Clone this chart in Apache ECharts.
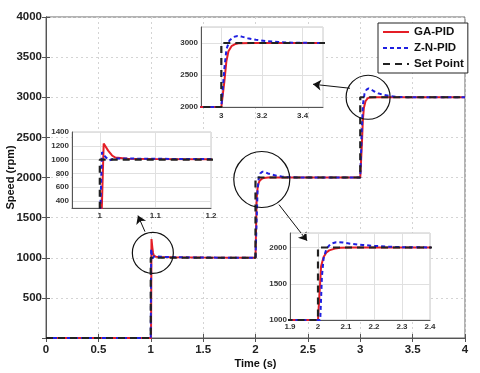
<!DOCTYPE html>
<html>
<head>
<meta charset="utf-8">
<script src="https://cdn.jsdelivr.net/npm/echarts@6/dist/echarts.min.js"></script>
<style>
  html, body { margin: 0; padding: 0; background: #fff; }
  #chart { width: 480px; height: 373px; }
</style>
</head>
<body>
<div id="chart"></div>
<script>
const seriesNames = ['GA-PID', 'Z-N-PID', 'Set Point'];

// [time (s), speed (rpm)]
const setPoint = [[0, 0], [1, 0], [1, 1000], [2, 1000], [2, 2000], [3, 2000], [3, 3000], [4, 3000]];

const gaPid = [
  [0, 0], [1.0025, 0], [1.007, 1233], [1.015, 1130], [1.022, 1060], [1.028, 1030],
  [1.05, 1012], [1.1, 1008], [1.2, 1005], [1.5, 1002], [2.0, 1000], [2.006, 1000],
  [2.011, 1740], [2.02, 1870], [2.03, 1930], [2.04, 1960], [2.06, 1985], [2.08, 1995],
  [2.12, 2000], [3.0, 2000], [3.005, 2000], [3.015, 2400], [3.025, 2720], [3.035, 2870],
  [3.05, 2950], [3.07, 2985], [3.09, 2998], [3.15, 3000], [4, 3000]
];

const znPid = [
  [0, 0], [1.0, 0], [1.004, 1110], [1.009, 1050], [1.017, 990], [1.024, 1010],
  [1.03, 1015], [1.06, 1015], [1.1, 1012], [1.2, 1008], [1.5, 1002], [2.0, 1000],
  [2.008, 1000], [2.014, 1600], [2.02, 1850], [2.03, 1980], [2.045, 2050], [2.065, 2073],
  [2.09, 2068], [2.12, 2050], [2.16, 2035], [2.2, 2022], [2.25, 2012], [2.3, 2005],
  [2.4, 2001], [3.0, 2000], [3.006, 2000], [3.015, 2600], [3.025, 2900], [3.04, 3040],
  [3.06, 3095], [3.08, 3110], [3.1, 3100], [3.13, 3075], [3.17, 3050], [3.22, 3030],
  [3.28, 3015], [3.35, 3005], [3.45, 3001], [4, 3000]
];

// zoom annotations on the main axes, [time, speed]
const zoomCircles = [[1.02, 1060], [2.06, 1975], [3.075, 3000]];
const zoomArrows = [
  [[0.945, 1325], [0.878, 1525]],
  [[2.224, 1662], [2.492, 1212]],
  [[2.902, 3112], [2.549, 3162]]
];

const circleDiameters = [41, 56, 44];
const font = "'Liberation Sans', Arial, sans-serif";

const lineStyles = [
  { color: '#e41e26', width: 2, type: 'solid' },
  { color: '#1f1fe0', width: 2, type: [4, 3] },
  { color: '#222222', width: 2.2, type: [7, 5] }
];
const lineData = [gaPid, znPid, setPoint];

function lines(xi, yi, z) {
  return lineData.map((d, i) => ({
    name: seriesNames[i],
    type: 'line',
    xAxisIndex: xi,
    yAxisIndex: yi,
    data: d,
    symbol: 'none',
    z: z,
    lineStyle: lineStyles[i],
    itemStyle: { color: lineStyles[i].color },
    emphasis: { disabled: true },
    animation: false
  }));
}

const plain = (v) => String(+v.toFixed(2));
// every other tick label
const everyOther = (v) => (Math.round(v * 10) % 2 === 0 ? plain(v) : '');
const oddOnly = (v) => (Math.round(v * 20) % 2 === 0 ? plain(v) : '');
const evenHundreds = (v) => (Math.round(v / 100) % 2 === 0 ? String(v) : '');

const insetLabel = { fontSize: 8, fontWeight: 'bold', color: '#333', fontFamily: font };
const insetSplit = { show: true, lineStyle: { color: '#e0e0e0', width: 1 } };
const insetAxisLine = { show: true, lineStyle: { color: '#555', width: 1 } };

const chart = echarts.init(document.getElementById('chart'));

const option = {
  backgroundColor: '#fff',
  animation: false,
  textStyle: { fontFamily: font },
  legend: {
    data: seriesNames,
    orient: 'vertical',
    left: 378,
    top: 23,
    padding: [3, 4, 3, 4],
    itemWidth: 26,
    itemHeight: 10,
    itemGap: 4,
    backgroundColor: '#fff',
    borderColor: '#222',
    borderWidth: 1,
    z: 20,
    itemStyle: { opacity: 0 },
    textStyle: { fontSize: 11.5, fontWeight: 'bold', color: '#111', fontFamily: font }
  },
  grid: [
    { left: 46, right: 15, top: 17, bottom: 35, show: true, borderColor: '#666', borderWidth: 1, outerBoundsMode: 'none' },
    { left: 72, top: 132, width: 139, height: 76, show: true, backgroundColor: '#fff', borderColor: '#c8c8c8', z: 5, outerBoundsMode: 'none' },
    { left: 290, top: 233, width: 140, height: 87, show: true, backgroundColor: '#fff', borderColor: '#c8c8c8', z: 5, outerBoundsMode: 'none' },
    { left: 201, top: 27, width: 122, height: 80, show: true, backgroundColor: '#fff', borderColor: '#c8c8c8', z: 5, outerBoundsMode: 'none' }
  ],
  xAxis: [
    {
      gridIndex: 0, type: 'value', min: 0, max: 4, interval: 0.5,
      name: 'Time (s)', nameLocation: 'middle', nameGap: 20, nameMoveOverlap: false,
      nameTextStyle: { fontSize: 11, fontWeight: 'bold', color: '#111' },
      axisLine: { show: true, lineStyle: { color: '#555' } },
      axisTick: { show: true, inside: true, length: 4, lineStyle: { color: '#555' } },
      axisLabel: { fontSize: 11.5, fontWeight: 'bold', color: '#222', margin: 6, formatter: plain },
      splitLine: { show: true, lineStyle: { color: '#d4d4d4', type: [2, 3] } }
    },
    {
      gridIndex: 0, type: 'value', min: 0, max: 4, interval: 0.5, position: 'top',
      axisLine: { show: true, lineStyle: { color: '#555' } },
      axisTick: { show: true, inside: true, length: 4, lineStyle: { color: '#555' } },
      axisLabel: { show: false }, splitLine: { show: false }
    },
    {
      gridIndex: 1, type: 'value', min: 0.95, max: 1.2, interval: 0.05, z: 6,
      axisLine: insetAxisLine, axisTick: { show: false },
      axisLabel: Object.assign({ margin: 4, formatter: oddOnly }, insetLabel),
      splitLine: { show: true, lineStyle: { color: ['transparent', '#e0e0e0'] } }
    },
    {
      gridIndex: 2, type: 'value', min: 1.9, max: 2.4, interval: 0.1, z: 6,
      axisLine: insetAxisLine, axisTick: { show: false },
      axisLabel: Object.assign({ margin: 3, formatter: plain }, insetLabel),
      splitLine: insetSplit
    },
    {
      gridIndex: 3, type: 'value', min: 2.9, max: 3.5, interval: 0.1, z: 6,
      axisLine: insetAxisLine, axisTick: { show: false },
      axisLabel: Object.assign({ margin: 5, formatter: everyOther }, insetLabel),
      splitLine: { show: true, lineStyle: { color: ['transparent', '#e0e0e0'] } }
    }
  ],
  yAxis: [
    {
      gridIndex: 0, type: 'value', min: 0, max: 4000, interval: 500,
      name: 'Speed (rpm)', nameLocation: 'middle', nameGap: 30, nameMoveOverlap: false,
      nameTextStyle: { fontSize: 11, fontWeight: 'bold', color: '#111' },
      axisLine: { show: true, lineStyle: { color: '#555' } },
      axisTick: { show: true, inside: true, length: 4, lineStyle: { color: '#555' } },
      axisLabel: { fontSize: 11.5, fontWeight: 'bold', color: '#222', margin: 4, formatter: (v) => (v === 0 ? '' : String(v)) },
      splitLine: { show: true, lineStyle: { color: '#d4d4d4', type: [2, 3] } }
    },
    {
      gridIndex: 0, type: 'value', min: 0, max: 4000, interval: 500, position: 'right',
      axisLine: { show: true, lineStyle: { color: '#555' } },
      axisTick: { show: true, inside: true, length: 4, lineStyle: { color: '#555' } },
      axisLabel: { show: false }, splitLine: { show: false }
    },
    {
      gridIndex: 1, type: 'value', min: 300, max: 1400, interval: 100, z: 6,
      axisLine: insetAxisLine, axisTick: { show: false },
      axisLabel: Object.assign({ margin: 3, formatter: evenHundreds }, insetLabel),
      splitLine: { show: true, lineStyle: { color: ['transparent', '#e0e0e0'] } }
    },
    {
      gridIndex: 2, type: 'value', min: 1000, max: 2200, interval: 500, z: 6,
      axisLine: insetAxisLine, axisTick: { show: false },
      axisLabel: Object.assign({ margin: 3, showMaxLabel: false, formatter: (v) => (v % 500 === 0 ? String(v) : '') }, insetLabel),
      splitLine: insetSplit
    },
    {
      gridIndex: 3, type: 'value', min: 2000, max: 3250, interval: 500, z: 6,
      axisLine: insetAxisLine, axisTick: { show: false },
      axisLabel: Object.assign({ margin: 3, showMaxLabel: false, formatter: (v) => (v % 500 === 0 ? String(v) : '') }, insetLabel),
      splitLine: insetSplit
    }
  ],
  series: [
    ...lines(0, 0, 2),
    ...lines(2, 2, 7),
    ...lines(3, 3, 7),
    ...lines(4, 4, 7),
    {
      type: 'line', xAxisIndex: 0, yAxisIndex: 0, data: [], z: 3, silent: true,
      markPoint: {
        symbol: 'circle',
        silent: true,
        label: { show: false },
        itemStyle: { color: 'rgba(0,0,0,0)', borderColor: '#111', borderWidth: 1.2 },
        data: zoomCircles.map((c, i) => ({ coord: c, symbolSize: circleDiameters[i] }))
      },
      markLine: {
        silent: true,
        symbol: ['none', 'arrow'],
        symbolSize: 8,
        label: { show: false },
        lineStyle: { color: '#111', width: 1, type: 'solid' },
        emphasis: { disabled: true },
        data: zoomArrows.map((a) => [{ coord: a[0] }, { coord: a[1] }])
      }
    }
  ]
};

chart.setOption(option);
</script>
</body>
</html>
